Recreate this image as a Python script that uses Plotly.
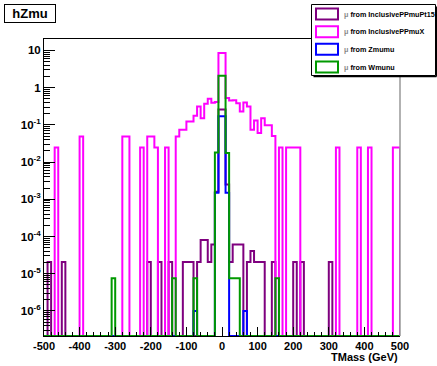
import plotly.graph_objects as go

# ---------------- data ----------------
# histogram binning: 100 bins of 10 GeV from -500 to 500
bin_edges = list(range(-500, 501, 10))

# non-empty bins: lower bin edge (GeV) -> bin content
pt15_vals = {  # mu from InclusivePPmuPt15
    -490: 2.05e-5, -450: 2.05e-5, -210: 2.05e-5, -180: 2.05e-5, -150: 2.05e-5,
    -110: 2.05e-5, -100: 2.05e-5, -90: 2.05e-5, -70: 2.05e-5,
    -60: 8.1e-5, -50: 8.1e-5, -40: 2.05e-5, -30: 6.1e-5,
    -20: 1.6e-3, -10: 0.26, 0: 0.26, 10: 2.5e-3,
    20: 2.05e-5, 30: 6.1e-5, 40: 6.1e-5, 50: 6.1e-5,
    70: 2.05e-5, 80: 4.1e-5, 90: 2.05e-5, 100: 2.05e-5, 110: 2.05e-5,
    140: 2.05e-5, 200: 2.05e-5, 220: 2.05e-5, 300: 2.05e-5,
}
ppmux_vals = {  # mu from InclusivePPmuX
    -470: 0.0245, -400: 0.049, -280: 0.049, -270: 0.049, -230: 0.0245,
    -210: 0.049, -200: 0.049, -190: 0.0245, -160: 0.0245,
    -130: 0.049, -120: 0.0735, -110: 0.0735, -100: 0.1225, -90: 0.1225,
    -80: 0.175, -70: 0.31, -60: 0.15, -50: 0.37, -40: 0.50, -30: 0.39,
    -20: 0.41, -10: 8.5, 0: 8.5, 10: 0.53, 20: 0.45, 30: 0.46, 40: 0.38,
    50: 0.23, 60: 0.40, 70: 0.31, 80: 0.0735, 90: 0.13, 100: 0.06,
    110: 0.15, 120: 0.098, 130: 0.098, 140: 0.05, 160: 0.0245,
    180: 0.0245, 190: 0.0245, 200: 0.0245, 210: 0.0245,
    320: 0.0245, 380: 0.0245, 410: 0.0245, 480: 0.0245, 490: 0.0245,
}
zmumu_vals = {  # mu from Zmumu
    -80: 1.0e-6, -20: 1.5e-3, -10: 0.17, 0: 0.17, 10: 1.5e-3, 60: 1.0e-6,
}
wmunu_vals = {  # mu from Wmunu
    -310: 7.5e-6, -140: 7.5e-6, -80: 7.5e-6, -20: 0.018, -10: 2.1, 0: 2.1,
    10: 0.0175, 20: 7.5e-6, 30: 7.5e-6, 40: 7.5e-6, 150: 7.5e-6,
}

series_names = ["from InclusivePPmuPt15", "from InclusivePPmuX",
                "from Zmumu", "from Wmunu"]
series_vals = [pt15_vals, ppmux_vals, zmumu_vals, wmunu_vals]
series_colors = ["#7F007F", "#FF00FF", "#0000FF", "#009900"]

x_tickvals = list(range(-500, 501, 100))
x_ticklabels = ["-500", "-400", "-300", "-200", "-100", "0",
                "100", "200", "300", "400", "500"]
y_tickvals = [1e-6, 1e-5, 1e-4, 1e-3, 1e-2, 1e-1, 1, 10]
y_ticklabels = ["10<sup>-6</sup>", "10<sup>-5</sup>", "10<sup>-4</sup>",
                "10<sup>-3</sup>", "10<sup>-2</sup>", "10<sup>-1</sup>",
                "1", "10"]

# ---------------- layout constants ----------------
W, H = 437, 366
ML, MR, MT, MB = 44, 37, 39, 30
PW, PH = W - ML - MR, H - MT - MB
Y_LOG_MIN, Y_LOG_MAX = -6.674, 1.307
FLOOR = 10 ** Y_LOG_MIN
FONT = "Liberation Sans, Arial, Helvetica, sans-serif"


def px_x(p):  # canvas pixel -> paper x
    return (p - ML) / PW


def px_y(p):  # canvas pixel -> paper y
    return 1 - (p - MT) / PH


def step_xy(vals):
    contents = [vals.get(e, 0.0) for e in bin_edges[:-1]]
    ys = [c if c > FLOOR else FLOOR for c in contents]
    x = [bin_edges[0]] + bin_edges
    y = [FLOOR] + ys + [FLOOR]
    return x, y


fig = go.Figure()
for name, vals, col in zip(series_names, series_vals, series_colors):
    x, y = step_xy(vals)
    fig.add_trace(go.Scatter(
        x=x, y=y, mode="lines", line=dict(shape="hv", color=col, width=2),
        name="μ " + name, showlegend=False,
    ))

minor_y = [k * 10 ** d for d in range(-7, 2) for k in range(2, 10)]

shapes = [dict(type="line", xref="paper", yref="paper",
               x0=1, x1=1, y0=0, y1=1,
               line=dict(color="#999999", width=1.5))]

# ROOT-style legend box (TLegend) drawn by hand
LX0, LX1, LY0, LY1 = 311.5, 435.5, 4.5, 75.5
shapes.append(dict(type="line", xref="paper", yref="paper",
                   x0=px_x(LX0 + 2), x1=px_x(LX1 + 1), y0=px_y(LY1 + 1),
                   y1=px_y(LY1 + 1), line=dict(color="black", width=1.5)))
shapes.append(dict(type="line", xref="paper", yref="paper",
                   x0=px_x(LX1 + 1), x1=px_x(LX1 + 1), y0=px_y(LY0 + 2),
                   y1=px_y(LY1 + 1), line=dict(color="black", width=1.5)))
shapes.append(dict(type="rect", xref="paper", yref="paper",
                   x0=px_x(LX0), x1=px_x(LX1), y0=px_y(LY1), y1=px_y(LY0),
                   fillcolor="white", line=dict(color="black", width=1)))
annotations = []
row_centers = [14.0, 31.7, 49.3, 67.0]
for name, col, yc in zip(series_names, series_colors, row_centers):
    shapes.append(dict(type="rect", xref="paper", yref="paper",
                       x0=px_x(316), x1=px_x(338), y0=px_y(yc + 5.5),
                       y1=px_y(yc - 5.5), fillcolor="white",
                       line=dict(color=col, width=2)))
    annotations.append(dict(
        text="<span style='color:#888'>μ</span> " + name,
        xref="paper", yref="paper", x=px_x(342), y=px_y(yc),
        xanchor="left", yanchor="middle", showarrow=False,
        font=dict(family=FONT, size=7.2, weight="bold", color="black"),
    ))

# histogram title box
annotations.append(dict(
    text="hZmu", xref="paper", yref="paper",
    x=px_x(3.5), y=px_y(4), xanchor="left", yanchor="top",
    showarrow=False, width=50, height=17, borderpad=0,
    bordercolor="black", borderwidth=1, bgcolor="white",
    font=dict(family=FONT, size=13, weight="bold"),
))
# x-axis title, right aligned as in ROOT
annotations.append(dict(
    text="TMass (GeV)", xref="paper", yref="paper",
    x=1, y=px_y(357), xanchor="right", yanchor="middle",
    showarrow=False, font=dict(family=FONT, size=11, weight="bold"),
))

fig.update_layout(
    width=W, height=H,
    margin=dict(l=ML, r=MR, t=MT, b=MB, pad=0, autoexpand=False),
    paper_bgcolor="white", plot_bgcolor="white",
    font=dict(family=FONT, color="black"),
    showlegend=False,
    xaxis=dict(
        range=[-500, 500], showgrid=False, zeroline=False,
        tickvals=x_tickvals, ticktext=x_ticklabels,
        ticks="inside", ticklen=9, tickwidth=1, tickcolor="black",
        showline=True, linecolor="black", linewidth=1, mirror=True,
        tickfont=dict(family=FONT, size=11, weight="bold"),
        minor=dict(dtick=20, tick0=-500, ticks="inside", ticklen=4.5,
                   tickwidth=1, tickcolor="black"),
    ),
    yaxis=dict(
        type="log", range=[Y_LOG_MIN, Y_LOG_MAX], showgrid=False,
        zeroline=False,
        tickvals=y_tickvals, ticktext=y_ticklabels,
        ticks="inside", ticklen=11, tickwidth=1, tickcolor="black",
        showline=True, linecolor="black", linewidth=1, mirror=False,
        tickfont=dict(family=FONT, size=11.5, weight="bold"),
        minor=dict(tickvals=minor_y, ticks="inside", ticklen=5.5,
                   tickwidth=1, tickcolor="black"),
    ),
    shapes=shapes,
    annotations=annotations,
)

fig.write_html("out.html")
